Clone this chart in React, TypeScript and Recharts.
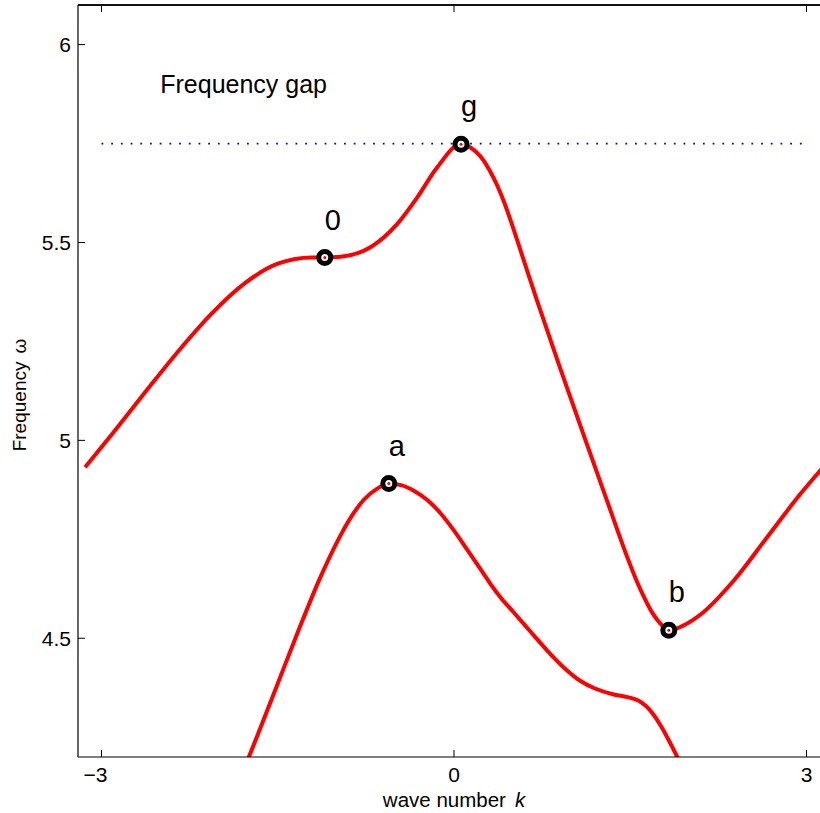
import { ComposedChart, Label, Line, Scatter, XAxis, YAxis } from "recharts";

const FONT = "'Liberation Sans', Arial, Helvetica, sans-serif";

// upper branch of the dispersion curve
const upperK = [
  -3.14, -2.913, -2.628, -2.345, -2.061, -1.777, -1.494, -1.21, -1.1, -0.966, -0.711, -0.483,
  -0.313, -0.143, 0.055, 0.14, 0.226, 0.3, 0.368, 0.43, 0.48, 0.6, 0.708, 0.906, 1.105, 1.304,
  1.474, 1.55, 1.615, 1.68, 1.729, 1.78, 1.828, 1.95, 2.098, 2.381, 2.666, 2.949, 3.14,
];
const upperW = [
  4.932, 5.015, 5.122, 5.226, 5.321, 5.398, 5.447, 5.462, 5.462, 5.464, 5.488, 5.547, 5.614, 5.69,
  5.748, 5.74, 5.717, 5.684, 5.644, 5.599, 5.557, 5.449, 5.352, 5.18, 5.012, 4.846, 4.705, 4.648,
  4.605, 4.568, 4.547, 4.53, 4.52, 4.532, 4.56, 4.646, 4.756, 4.865, 4.932,
];

// lower branch (runs off the bottom of the axes)
const lowerK = [
  -1.85, -1.746, -1.534, -1.334, -1.136, -0.966, -0.866, -0.768, -0.654, -0.555, -0.45, -0.342,
  -0.23, -0.115, 0, 0.112, 0.25, 0.311, 0.4, 0.509, 0.65, 0.793, 0.95, 1.077, 1.2, 1.36, 1.45,
  1.53, 1.6, 1.65, 1.7, 1.757, 1.814, 1.9, 1.98,
];
const lowerW = [
  4.125, 4.2, 4.36, 4.512, 4.655, 4.76, 4.811, 4.85, 4.878, 4.891, 4.887, 4.873, 4.85, 4.816,
  4.772, 4.724, 4.664, 4.637, 4.602, 4.565, 4.517, 4.469, 4.422, 4.392, 4.373, 4.358, 4.353, 4.347,
  4.337, 4.324, 4.306, 4.28, 4.25, 4.2, 4.15,
];

// frequency gap level
const gapK = [-3, 3];
const gapW = [5.75, 5.75];

// marked points
const pointNames = ["0", "g", "a", "b"];
const pointK = [-1.1, 0.06, -0.555, 1.828];
const pointW = [5.462, 5.748, 4.891, 4.52];

const noteText = ["Frequency gap"];
const noteK = [-2.5];
const noteW = [5.9];

const xTicks = [-3, 0, 3];
const xTickLabels = ["\u22123", "0", "3"];
const yTicks = [4.5, 5, 5.5, 6];
const yTickLabels = ["4.5", "5", "5.5", "6"];

const upper = upperK.map((k, i) => ({ k, w: upperW[i] }));
const lower = lowerK.map((k, i) => ({ k, w: lowerW[i] }));
const gap = gapK.map((k, i) => ({ k, w: gapW[i] }));
const points = pointK.map((k, i) => ({ k, w: pointW[i], name: pointNames[i] }));
const notes = noteK.map((k, i) => ({ k, w: noteW[i], text: noteText[i] }));

function BottomTick({ x, y, payload }: any) {
  const i = xTicks.indexOf(payload.value);
  return (
    <g>
      <line x1={x} y1={y} x2={x} y2={y - 7} stroke="#000" />
      <text
        x={x}
        y={y + 25}
        dx={payload.value < 0 ? -6 : 0}
        textAnchor="middle"
        fontSize={21}
        fontFamily={FONT}
        fill="#000"
      >
        {xTickLabels[i]}
      </text>
    </g>
  );
}

function TopTick({ x, y }: any) {
  return <line x1={x} y1={y} x2={x} y2={y + 7} stroke="#000" />;
}

function LeftTick({ x, y, payload }: any) {
  const i = yTicks.indexOf(payload.value);
  return (
    <g>
      <line x1={x} y1={y} x2={x + 7} y2={y} stroke="#000" />
      <text x={x - 7} y={y + 7.5} textAnchor="end" fontSize={21} fontFamily={FONT} fill="#000">
        {yTickLabels[i]}
      </text>
    </g>
  );
}

function Marker({ cx, cy, payload }: any) {
  return (
    <g>
      <circle cx={cx} cy={cy} r={6} fill="#fff" stroke="#000" strokeWidth={5} />
      <circle cx={cx} cy={cy} r={1.5} fill="#f00" />
      <text x={cx + 8} y={cy - 28} textAnchor="middle" fontSize={29} fontFamily={FONT} fill="#000">
        {payload.name}
      </text>
    </g>
  );
}

function Note({ cx, cy, payload }: any) {
  return (
    <text x={cx} y={cy + 9} fontSize={25} fontFamily={FONT} fill="#000">
      {payload.text}
    </text>
  );
}

function XTitle({ viewBox }: any) {
  return (
    <text
      x={viewBox.x + viewBox.width / 2}
      y={viewBox.y + 50}
      textAnchor="middle"
      fontSize={20.5}
      fontFamily={FONT}
      fill="#000"
    >
      wave number
      <tspan dx={9} fontStyle="italic">
        k
      </tspan>
    </text>
  );
}

function YTitle({ viewBox }: any) {
  const x = 26;
  const y = viewBox.y + viewBox.height / 2 + 14;
  return (
    <text
      x={x}
      y={y}
      transform={`rotate(-90, ${x}, ${y})`}
      textAnchor="middle"
      fontSize={19}
      fontFamily={FONT}
      fill="#000"
    >
      Frequency
      <tspan dx={8}>ω</tspan>
    </text>
  );
}

export default function App() {
  return (
    <div
      style={{
        position: "absolute",
        left: 0,
        top: 0,
        width: 820,
        height: 813,
        overflow: "hidden",
        background: "#fff",
      }}
    >
      <ComposedChart
        width={840}
        height={813}
        margin={{ top: 4, right: 10, left: 38, bottom: 26 }}
      >
        <XAxis
          dataKey="k"
          type="number"
          domain={[-3.2, 3.2]}
          ticks={xTicks}
          allowDataOverflow
          height={30}
          tickSize={0}
          tickMargin={0}
          tickLine={false}
          tick={<BottomTick />}
          axisLine={{ stroke: "#000", strokeWidth: 1.2 }}
        >
          <Label content={<XTitle />} />
        </XAxis>
        <XAxis
          xAxisId="top"
          orientation="top"
          dataKey="k"
          type="number"
          domain={[-3.2, 3.2]}
          ticks={xTicks}
          allowDataOverflow
          height={1}
          tickSize={0}
          tickMargin={0}
          tickLine={false}
          tick={<TopTick />}
          axisLine={{ stroke: "#000", strokeWidth: 1.2 }}
        />
        <YAxis
          type="number"
          domain={[4.2, 6.1]}
          ticks={yTicks}
          allowDataOverflow
          width={40}
          tickSize={0}
          tickMargin={0}
          tickLine={false}
          tick={<LeftTick />}
          axisLine={{ stroke: "#000", strokeWidth: 1.2 }}
        >
          <Label content={<YTitle />} />
        </YAxis>
        <Line
          xAxisId="top"
          data={gap}
          dataKey="w"
          type="linear"
          stroke="#0000ff"
          strokeWidth={1.8}
          strokeDasharray="1.8 7.9"
          dot={false}
          activeDot={false}
          isAnimationActive={false}
        />
        <Line
          data={upper}
          dataKey="w"
          type="monotone"
          stroke="#ff0000"
          strokeWidth={4}
          dot={false}
          activeDot={false}
          isAnimationActive={false}
        />
        <Line
          data={lower}
          dataKey="w"
          type="monotone"
          stroke="#ff0000"
          strokeWidth={4}
          dot={false}
          activeDot={false}
          isAnimationActive={false}
        />
        <Scatter data={points} dataKey="w" shape={<Marker />} isAnimationActive={false} />
        <Scatter data={notes} dataKey="w" shape={<Note />} isAnimationActive={false} />
      </ComposedChart>
      {/* top frame edge of the axes box */}
      <div
        style={{
          position: "absolute",
          left: 78,
          top: 4,
          width: 760,
          height: 1.5,
          background: "#111",
        }}
      />
    </div>
  );
}
